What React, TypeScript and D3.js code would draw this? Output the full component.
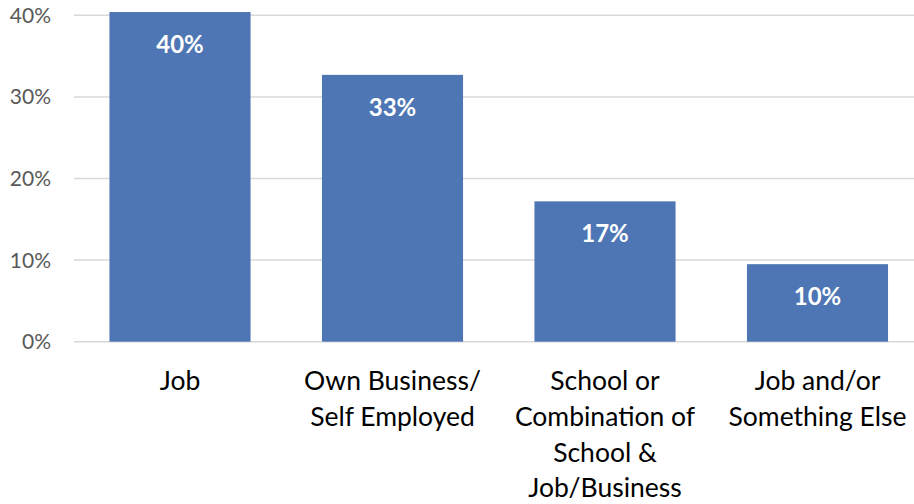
import React from "react";
import * as d3 from "d3";

const categories: string[][] = [
  ["Job"],
  ["Own Business/", "Self Employed"],
  ["School or", "Combination of", "School &", "Job/Business"],
  ["Job and/or", "Something Else"],
];
const values: number[] = [40.4, 32.7, 17.2, 9.5];
const valueLabels: string[] = ["40%", "33%", "17%", "10%"];
const yTicks: number[] = [0, 10, 20, 30, 40];

const W = 914;
const H = 504;
const FONT = "Lato, 'Open Sans', sans-serif";

export default function App() {
  const x = d3
    .scaleBand<number>()
    .domain(categories.map((_, i) => i))
    .range([73.75, 923.75])
    .paddingInner(0.336)
    .paddingOuter(0.168);
  const y = d3.scaleLinear().domain([0, 40]).range([341.7, 15.3]);

  return (
    <svg
      width={W}
      height={H}
      style={{ position: "absolute", left: 0, top: 0, background: "#fff" }}
    >
      {yTicks.map((t) => (
        <g key={t}>
          <line
            x1={74}
            x2={W}
            y1={y(t)}
            y2={y(t)}
            stroke="#d9d9d9"
            strokeWidth={1.5}
          />
          <text
            x={51}
            y={y(t) + 7.5}
            textAnchor="end"
            fontFamily={FONT}
            fontSize={21}
            fill="#595959"
          >
            {t}%
          </text>
        </g>
      ))}
      {values.map((v, i) => (
        <g key={i}>
          <rect
            x={x(i)}
            y={y(v)}
            width={x.bandwidth()}
            height={y(0) - y(v)}
            fill="#4e76b4"
          />
          <text
            x={(x(i) as number) + x.bandwidth() / 2}
            y={y(v) + 40.7}
            textAnchor="middle"
            fontFamily={FONT}
            fontWeight="bold"
            fontSize={24}
            fill="#fff"
          >
            {valueLabels[i]}
          </text>
        </g>
      ))}
      {categories.map((lines, i) => (
        <text
          key={i}
          textAnchor="middle"
          fontFamily={FONT}
          fontSize={26.5}
          fill="#000"
        >
          {lines.map((l, j) => (
            <tspan
              key={j}
              x={(x(i) as number) + x.bandwidth() / 2}
              y={390 + j * 35.8}
            >
              {l}
            </tspan>
          ))}
        </text>
      ))}
    </svg>
  );
}
